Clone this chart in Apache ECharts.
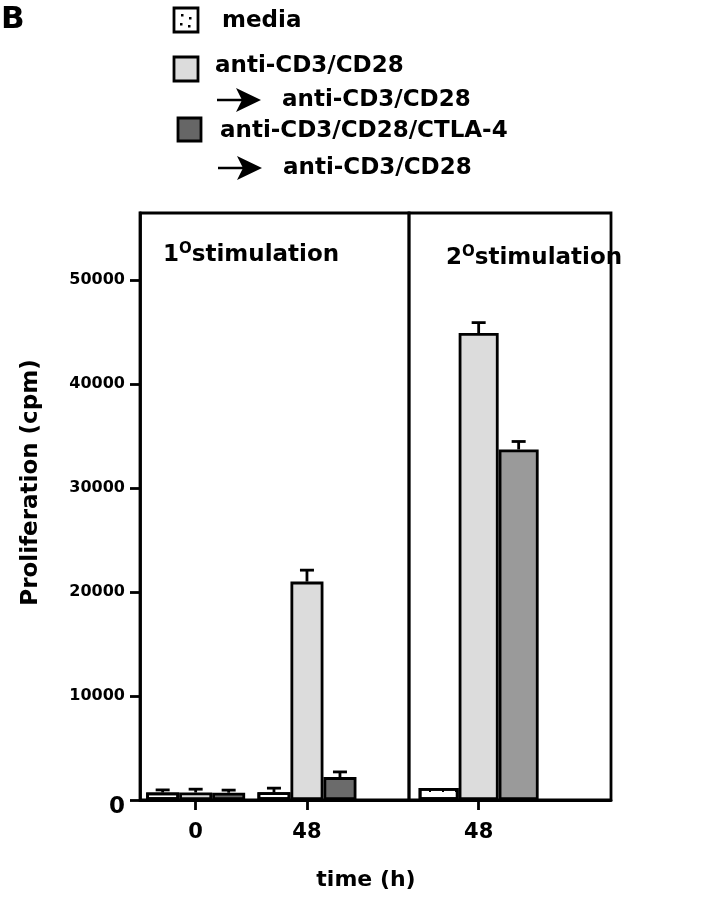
<!DOCTYPE html>
<html>
<head>
<meta charset="utf-8">
<script src="https://cdn.jsdelivr.net/npm/echarts@6/dist/echarts.min.js"></script>
<style>
  html, body { margin: 0; padding: 0; background: #fff; }
  #chart { width: 717px; height: 900px; }
</style>
</head>
<body>
<div id="chart"></div>
<script>
// time points (h)
const hoursPrimary = [0, 48];
const hoursSecondary = [48];

// 1° stimulation (cpm) and upper error
const mediaPrimary = [720, 740];
const mediaPrimaryErr = [250, 400];
const antiPrimary = [720, 21000];
const antiPrimaryErr = [320, 1100];
const ctlaPrimary = [700, 2200];
const ctlaPrimaryErr = [250, 500];

// 2° stimulation
const mediaSecondary = [1150];
const mediaSecondaryErr = [0];
const antiSecondary = [44900];
const antiSecondaryErr = [1000];
const ctlaSecondary = [33700];
const ctlaSecondaryErr = [770];

const yTicks = [0, 10000, 20000, 30000, 40000, 50000];
const xTicksPrimary = [0, 48];
const xTicksSecondary = [48];

const seriesNames = ['media', 'anti-CD3/CD28 \u2192 anti-CD3/CD28', 'anti-CD3/CD28/CTLA-4 \u2192 anti-CD3/CD28'];

const FONT = 'DejaVu Sans';
const YMAX = 56440;
const BW1 = 33;
const BW2 = 40;

const chart = echarts.init(document.getElementById('chart'));

const mediaDecal = {
    symbol: 'rect',
    symbolSize: 1,
    color: '#000',
    dashArrayX: [2, 11],
    dashArrayY: [2, 8]
};

function barSeries(name, hours, values, grid, width, color, decal) {
    return {
        name: name,
        type: 'bar',
        xAxisIndex: grid,
        yAxisIndex: grid,
        barWidth: width,
        barGap: '0%',
        data: hours.map((h, i) => [h, values[i]]),
        itemStyle: {
            color: color,
            borderColor: '#000',
            borderWidth: 2.8,
            decal: decal
        },
        z: 2
    };
}

function errorSeries(hours, values, errs, grid, offset) {
    return {
        type: 'custom',
        xAxisIndex: grid,
        yAxisIndex: grid,
        data: hours.map((h, i) => [h, values[i], errs[i]]),
        encode: { x: 0, y: 1 },
        z: 3,
        renderItem(params, api) {
            const e = api.value(2);
            if (!e) {
                return;
            }
            const base = api.coord([api.value(0), api.value(1)]);
            const top = api.coord([api.value(0), api.value(1) + e]);
            const cx = base[0] + offset;
            const st = { stroke: '#000', lineWidth: 2.8 };
            return {
                type: 'group',
                children: [
                    { type: 'line', shape: { x1: cx, y1: base[1], x2: cx, y2: top[1] }, style: st },
                    { type: 'line', shape: { x1: cx - 7, y1: top[1], x2: cx + 7, y2: top[1] }, style: st }
                ]
            };
        }
    };
}

function arrow(x, y) {
    return {
        type: 'group',
        x: x,
        y: y,
        children: [
            { type: 'line', shape: { x1: 0, y1: 0, x2: 28, y2: 0 }, style: { stroke: '#000', lineWidth: 2.5 } },
            { type: 'polygon', shape: { points: [[44, 0], [19, -12], [25, 0], [19, 12]] }, style: { fill: '#000' } }
        ]
    };
}

function label(text, x, y, size) {
    return {
        type: 'text',
        x: x,
        y: y,
        style: {
            text: text,
            fill: '#000',
            font: 'bold ' + (size || 23) + 'px "' + FONT + '"',
            verticalAlign: 'middle'
        }
    };
}

function stimLabel(num, x, y) {
    return {
        type: 'text',
        x: x,
        y: y,
        style: {
            text: '{n|' + num + '}{o|O}{t|stimulation}',
            verticalAlign: 'middle',
            rich: {
                n: { fontFamily: FONT, fontWeight: 'bold', fontSize: 23, fill: '#000', lineHeight: 26 },
                o: { fontFamily: FONT, fontWeight: 'bold', fontSize: 15, fill: '#000', verticalAlign: 'top' },
                t: { fontFamily: FONT, fontWeight: 'bold', fontSize: 23, fill: '#000', lineHeight: 26 }
            }
        }
    };
}

const legendGraphics = [
    label('B', 1, 20, 31),
    // media swatch
    {
        type: 'group',
        x: 174,
        y: 8,
        children: [
            { type: 'rect', shape: { x: 0, y: 0, width: 24, height: 24 }, style: { fill: '#fff', stroke: '#000', lineWidth: 2.8 } },
            { type: 'rect', shape: { x: 7, y: 6, width: 2.5, height: 2.5 }, style: { fill: '#000' } },
            { type: 'rect', shape: { x: 15, y: 9, width: 2.5, height: 2.5 }, style: { fill: '#000' } },
            { type: 'rect', shape: { x: 6, y: 15, width: 2.5, height: 2.5 }, style: { fill: '#000' } },
            { type: 'rect', shape: { x: 14, y: 17, width: 2.5, height: 2.5 }, style: { fill: '#000' } }
        ]
    },
    label('media', 222, 21),
    { type: 'rect', shape: { x: 174, y: 57, width: 24, height: 24 }, style: { fill: '#dcdcdc', stroke: '#000', lineWidth: 2.8 } },
    label('anti-CD3/CD28', 215, 66),
    arrow(217, 100),
    label('anti-CD3/CD28', 282, 100),
    { type: 'rect', shape: { x: 178, y: 118, width: 23, height: 23 }, style: { fill: '#666', stroke: '#000', lineWidth: 2.8 } },
    label('anti-CD3/CD28/CTLA-4', 220, 131),
    arrow(218, 168),
    label('anti-CD3/CD28', 283, 168),
    stimLabel('1', 163, 255),
    stimLabel('2', 446, 258),
    {
        type: 'text',
        x: 366,
        y: 880,
        style: {
            text: 'time (h)',
            fill: '#000',
            font: 'bold 22px "' + FONT + '"',
            align: 'center',
            verticalAlign: 'middle'
        }
    }
];

const axisFont = { fontFamily: FONT, fontWeight: 'bold', color: '#000' };
const axisLineStyle = { show: true, onZero: false, lineStyle: { color: '#000', width: 2.8 } };

chart.setOption({
    animation: false,
    backgroundColor: '#fff',
    grid: [
        { left: 140, top: 213, width: 269, height: 587, show: true, borderColor: '#000', borderWidth: 2.8, backgroundColor: 'transparent' },
        { left: 409, top: 213, width: 202, height: 587, show: true, borderColor: '#000', borderWidth: 2.8, backgroundColor: 'transparent' }
    ],
    xAxis: [
        {
            gridIndex: 0,
            type: 'value',
            min: -24,
            max: 92,
            splitLine: { show: false },
            axisLine: axisLineStyle,
            axisTick: { show: true, customValues: xTicksPrimary, length: 10, lineStyle: { color: '#000', width: 2.8 } },
            axisLabel: Object.assign({ customValues: xTicksPrimary, fontSize: 21, margin: 22 }, axisFont)
        },
        {
            gridIndex: 1,
            type: 'value',
            min: 18,
            max: 105,
            splitLine: { show: false },
            axisLine: axisLineStyle,
            axisTick: { show: true, customValues: xTicksSecondary, length: 10, lineStyle: { color: '#000', width: 2.8 } },
            axisLabel: Object.assign({ customValues: xTicksSecondary, fontSize: 21, margin: 22 }, axisFont)
        }
    ],
    yAxis: [
        {
            gridIndex: 0,
            type: 'value',
            min: 0,
            max: YMAX,
            interval: 10000,
            name: 'Proliferation (cpm)',
            nameLocation: 'middle',
            nameGap: 97,
            nameTextStyle: Object.assign({ fontSize: 23, padding: [0, 0, 0, 48] }, axisFont),
            splitLine: { show: false },
            axisLine: axisLineStyle,
            axisTick: { show: true, customValues: yTicks, length: 10, lineStyle: { color: '#000', width: 2.8 } },
            axisLabel: Object.assign({
                customValues: yTicks,
                fontSize: 16,
                margin: 15,
                formatter: v => (v === 0 ? '{big|0}' : String(v)),
                rich: {
                    big: { fontFamily: FONT, fontWeight: 'bold', fontSize: 23, color: '#000', padding: [14, 0, 0, 0] }
                }
            }, axisFont)
        },
        {
            gridIndex: 1,
            type: 'value',
            min: 0,
            max: YMAX,
            show: false
        }
    ],
    graphic: legendGraphics,
    series: [
        barSeries(seriesNames[0], hoursPrimary, mediaPrimary, 0, BW1, '#fff', mediaDecal),
        barSeries(seriesNames[1], hoursPrimary, antiPrimary, 0, BW1, '#dcdcdc'),
        barSeries(seriesNames[2], hoursPrimary, ctlaPrimary, 0, BW1, '#6b6b6b'),
        barSeries(seriesNames[0], hoursSecondary, mediaSecondary, 1, BW2, '#fff', mediaDecal),
        barSeries(seriesNames[1], hoursSecondary, antiSecondary, 1, BW2, '#dcdcdc'),
        barSeries(seriesNames[2], hoursSecondary, ctlaSecondary, 1, BW2, '#9a9a9a'),
        errorSeries(hoursPrimary, mediaPrimary, mediaPrimaryErr, 0, -BW1),
        errorSeries(hoursPrimary, antiPrimary, antiPrimaryErr, 0, 0),
        errorSeries(hoursPrimary, ctlaPrimary, ctlaPrimaryErr, 0, BW1),
        errorSeries(hoursSecondary, mediaSecondary, mediaSecondaryErr, 1, -BW2),
        errorSeries(hoursSecondary, antiSecondary, antiSecondaryErr, 1, 0),
        errorSeries(hoursSecondary, ctlaSecondary, ctlaSecondaryErr, 1, BW2)
    ]
});
</script>
</body>
</html>
